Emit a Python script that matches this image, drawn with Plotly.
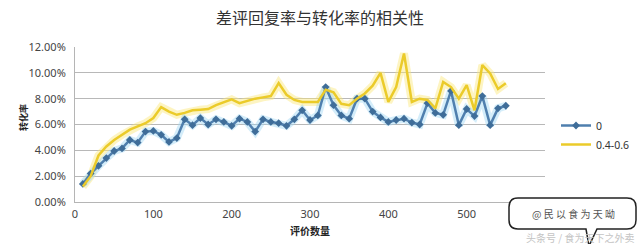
import plotly.graph_objects as go

# ---- data ----
x_vals = [10, 20, 30, 40, 50, 60, 70, 80, 90, 100,
          110, 120, 130, 140, 150, 160, 170, 180, 190, 200,
          210, 220, 230, 240, 250, 260, 270, 280, 290, 300,
          310, 320, 330, 340, 350, 360, 370, 380, 390, 400,
          410, 420, 430, 440, 450, 460, 470, 480, 490, 500,
          510, 520, 530, 540, 550]
series_0 = [1.4, 2.2, 2.8, 3.4, 3.95, 4.15, 4.8, 4.6, 5.45, 5.5,
            5.2, 4.65, 4.95, 6.4, 5.95, 6.5, 6.0, 6.4, 6.2, 5.9,
            6.45, 6.2, 5.45, 6.4, 6.2, 6.1, 5.9, 6.4, 7.1, 6.35,
            6.7, 8.9, 7.5, 6.7, 6.45, 8.0, 8.0, 7.0, 6.55, 6.2,
            6.35, 6.45, 6.15, 6.0, 7.65, 6.9, 6.75, 8.6, 5.95, 7.2,
            6.65, 8.2, 5.95, 7.25, 7.45]
series_04_06 = [1.2, 2.0, 3.6, 4.3, 4.8, 5.2, 5.6, 5.85, 6.1, 6.5,
                7.35, 7.0, 6.75, 6.9, 7.1, 7.15, 7.2, 7.5, 7.7, 7.95,
                7.65, 7.85, 8.0, 8.1, 8.2, 9.2, 8.3, 7.9, 7.75, 7.75,
                7.75, 8.7, 8.5, 7.6, 7.5, 8.0, 8.4, 9.0, 10.0, 7.75,
                8.9, 11.5, 7.75, 8.0, 7.9, 7.25, 9.3, 8.9, 8.0, 9.05,
                7.1, 10.6, 9.95, 8.75, 9.2]
series_names = ["0", "0.4-0.6"]
y_ticks = [0, 2, 4, 6, 8, 10, 12]
y_tick_labels = ["0.00%", "2.00%", "4.00%", "6.00%", "8.00%", "10.00%", "12.00%"]
x_ticks = [0, 100, 200, 300, 400, 500]

title_text = "差评回复率与转化率的相关性"
x_title = "评价数量"
y_title = "转化率"

# ---- layout geometry ----
L, R, T, B = 75, 95, 47, 42
W, H = 640, 244
PW, PH = W - L - R, H - T - B


def px(xp):
    return (xp - L) / PW


def py(yp):
    return (H - B - yp) / PH


fig = go.Figure()

# glow traces
fig.add_trace(go.Scatter(x=x_vals, y=series_04_06, mode="lines",
                         line=dict(color="rgba(250,230,120,0.45)", width=8),
                         showlegend=False, hoverinfo="skip"))
fig.add_trace(go.Scatter(x=x_vals, y=series_0, mode="lines",
                         line=dict(color="rgba(160,215,245,0.45)", width=8),
                         showlegend=False, hoverinfo="skip"))

fig.add_trace(go.Scatter(x=x_vals, y=series_0, mode="lines+markers",
                         name=series_names[0],
                         line=dict(color="#4f7fae", width=2.5),
                         marker=dict(symbol="diamond", size=6, color="#3f6d99")))
fig.add_trace(go.Scatter(x=x_vals, y=series_04_06, mode="lines",
                         name=series_names[1],
                         line=dict(color="#ebcb2a", width=2.5)))

font_main = "Noto Sans, Noto Sans CJK SC, sans-serif"

fig.update_layout(
    width=W, height=H,
    margin=dict(l=L, r=R, t=T, b=B, pad=0),
    paper_bgcolor="white", plot_bgcolor="white",
    font=dict(family=font_main, size=11, color="#404040"),
    showlegend=True,
    legend=dict(xref="container", yref="container", x=556 / W, y=1 - 111 / H,
                xanchor="left", yanchor="top", font=dict(size=10.5, color="#333"),
                bgcolor="rgba(0,0,0,0)", itemwidth=30, tracegroupgap=0,
                borderwidth=0),
    xaxis=dict(range=[0, 600], tickvals=x_ticks, showgrid=False,
               showline=True, linecolor="#b5b5b5", linewidth=1,
               ticks="", zeroline=False, ticklabelstandoff=2,
               tickfont=dict(size=11, color="#444")),
    yaxis=dict(range=[0, 12], tickvals=y_ticks, ticktext=y_tick_labels,
               showgrid=True, gridcolor="#b8b8b8", gridwidth=1,
               showline=True, linecolor="#b5b5b5", linewidth=1,
               ticks="", zeroline=False, ticklabelstandoff=6,
               tickfont=dict(size=11, color="#444")),
)

annotations = [
    dict(text=title_text, xref="paper", yref="paper", x=px(320), y=py(17),
         xanchor="center", yanchor="middle", showarrow=False,
         font=dict(size=16, color="#333", family="Noto Sans CJK SC")),
    dict(text="<b>" + x_title + "</b>", xref="paper", yref="paper", x=px(310), y=py(230),
         xanchor="center", yanchor="middle", showarrow=False,
         font=dict(size=10, color="#222", family="Noto Sans CJK SC")),
    dict(text="<b>" + y_title + "</b>", xref="paper", yref="paper", x=px(24), y=py(118),
         xanchor="center", yanchor="middle", showarrow=False, textangle=-90,
         font=dict(size=9, color="#222", family="Noto Sans CJK SC")),
    dict(text="@ 民 以 食 为 天 呦", xref="paper", yref="paper", x=px(573), y=py(213),
         xanchor="center", yanchor="middle", showarrow=False,
         font=dict(size=10, color="#555", family="Noto Sans CJK SC")),
    dict(text="头条号 / 食为天下之外卖", xref="paper", yref="paper", x=px(580), y=py(237),
         xanchor="center", yanchor="middle", showarrow=False,
         font=dict(size=10, color="#c4c4c4", family="Noto Sans CJK SC")),
]

# callout bubble
x0, x1, y0, y1, r = 509, 636, 198, 229, 9


def rr_path():
    pts = []
    pts.append(f"M {px(x0 + r)} {py(y0)}")
    pts.append(f"L {px(x1 - r)} {py(y0)}")
    pts.append(f"Q {px(x1)} {py(y0)} {px(x1)} {py(y0 + r)}")
    pts.append(f"L {px(x1)} {py(y1 - r)}")
    pts.append(f"Q {px(x1)} {py(y1)} {px(x1 - r)} {py(y1)}")
    pts.append(f"L {px(597)} {py(y1)}")
    pts.append(f"L {px(589)} {py(246)}")
    pts.append(f"L {px(586)} {py(y1)}")
    pts.append(f"L {px(x0 + r)} {py(y1)}")
    pts.append(f"Q {px(x0)} {py(y1)} {px(x0)} {py(y1 - r)}")
    pts.append(f"L {px(x0)} {py(y0 + r)}")
    pts.append(f"Q {px(x0)} {py(y0)} {px(x0 + r)} {py(y0)}")
    pts.append("Z")
    return " ".join(pts)


fig.update_layout(
    annotations=annotations,
    shapes=[dict(type="path", path=rr_path(), xref="paper", yref="paper",
                 line=dict(color="#222", width=1.5), fillcolor="white", layer="above")],
)

fig.write_html("out.html")
